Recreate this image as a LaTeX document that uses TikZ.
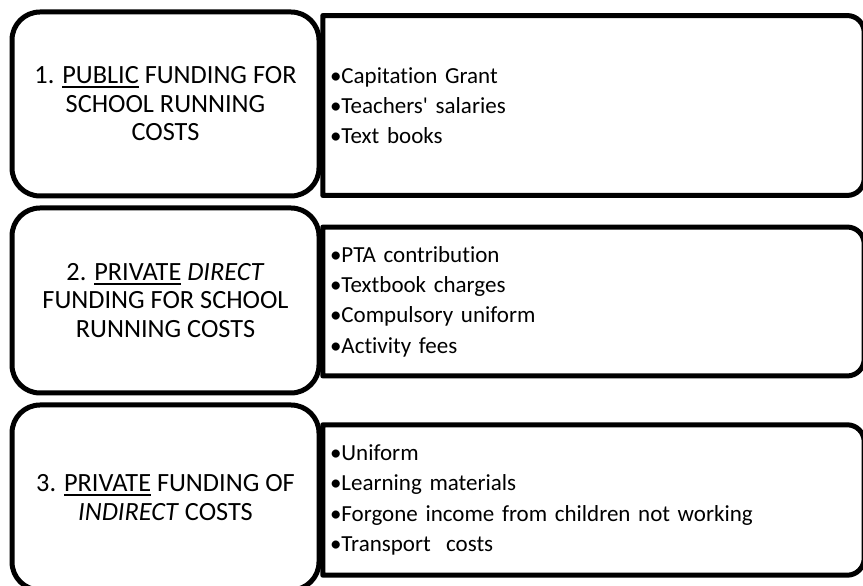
\documentclass[tikz,border=0pt]{standalone}
\usepackage{fontspec}
\setmainfont{Carlito}[Ligatures={TeXOff,NoCommon}]
\usetikzlibrary{positioning}
\tikzset{every node/.append style={align=center}}
\newcommand{\undl}[1]{\setbox0\hbox{#1}\rlap{\raisebox{-4.5pt}{\rule{\wd0}{2pt}}}\box0\relax}

\tikzset{
  costbox/.style={draw, line width=5pt, rounded corners=28pt, minimum width=307pt,
                  font=\fontsize{26.3}{28.5}\selectfont},
  itemlist/.style={align=left, text width=527pt, inner xsep=7pt,
                   font=\fontsize{23}{30.3}\selectfont},
  listframe/.style={line width=5pt, line join=round}
}

\begin{document}
\begin{tikzpicture}[x=1pt,y=1pt]
\useasboundingbox (0,0) rectangle (863,586);
\clip (0,0) rectangle (863,586);

% ── Cost items (right) ────────────────────────────────────────────────────────
\node[itemlist, minimum height=179.5pt] (items1) at (593.5,480.5)
      {•Capitation Grant\\•Teachers' salaries\\•Text books};
\node[itemlist, minimum height=148.5pt] (items2) at (593.5,284.5)
      {•PTA contribution\\•Textbook charges\\•Compulsory uniform\\•Activity fees};
\node[itemlist, minimum height=150pt] (items3) at (593.5,86)
      {•Uniform\\•Learning materials\\•Forgone income from children not working\\•Transport~~costs};

\foreach \r in {1,2,3}
  \draw[listframe] (items\r.north west) -- ([xshift=-17pt]items\r.north east)
       arc[start angle=90, end angle=0, radius=17pt]
       -- ([yshift=17pt]items\r.south east)
       arc[start angle=0, end angle=-90, radius=17pt]
       -- (items\r.south west) -- cycle;

% ── Funding sources (left) ────────────────────────────────────────────────────
\node[costbox, minimum height=184pt] (src1) at (165.5,482)
      {1. \undl{PUBLIC} FUNDING FOR\\SCHOOL RUNNING\\COSTS};
\node[costbox, minimum height=185pt] (src2) at (165.5,285.5)
      {2. \undl{PRIVATE} \textit{DIRECT}\\FUNDING FOR SCHOOL\\RUNNING COSTS};
\node[costbox, minimum height=185pt] (src3) at (165.5,88.5)
      {3. \undl{PRIVATE} FUNDING OF\\\textit{INDIRECT} COSTS};

\end{tikzpicture}
\end{document}
